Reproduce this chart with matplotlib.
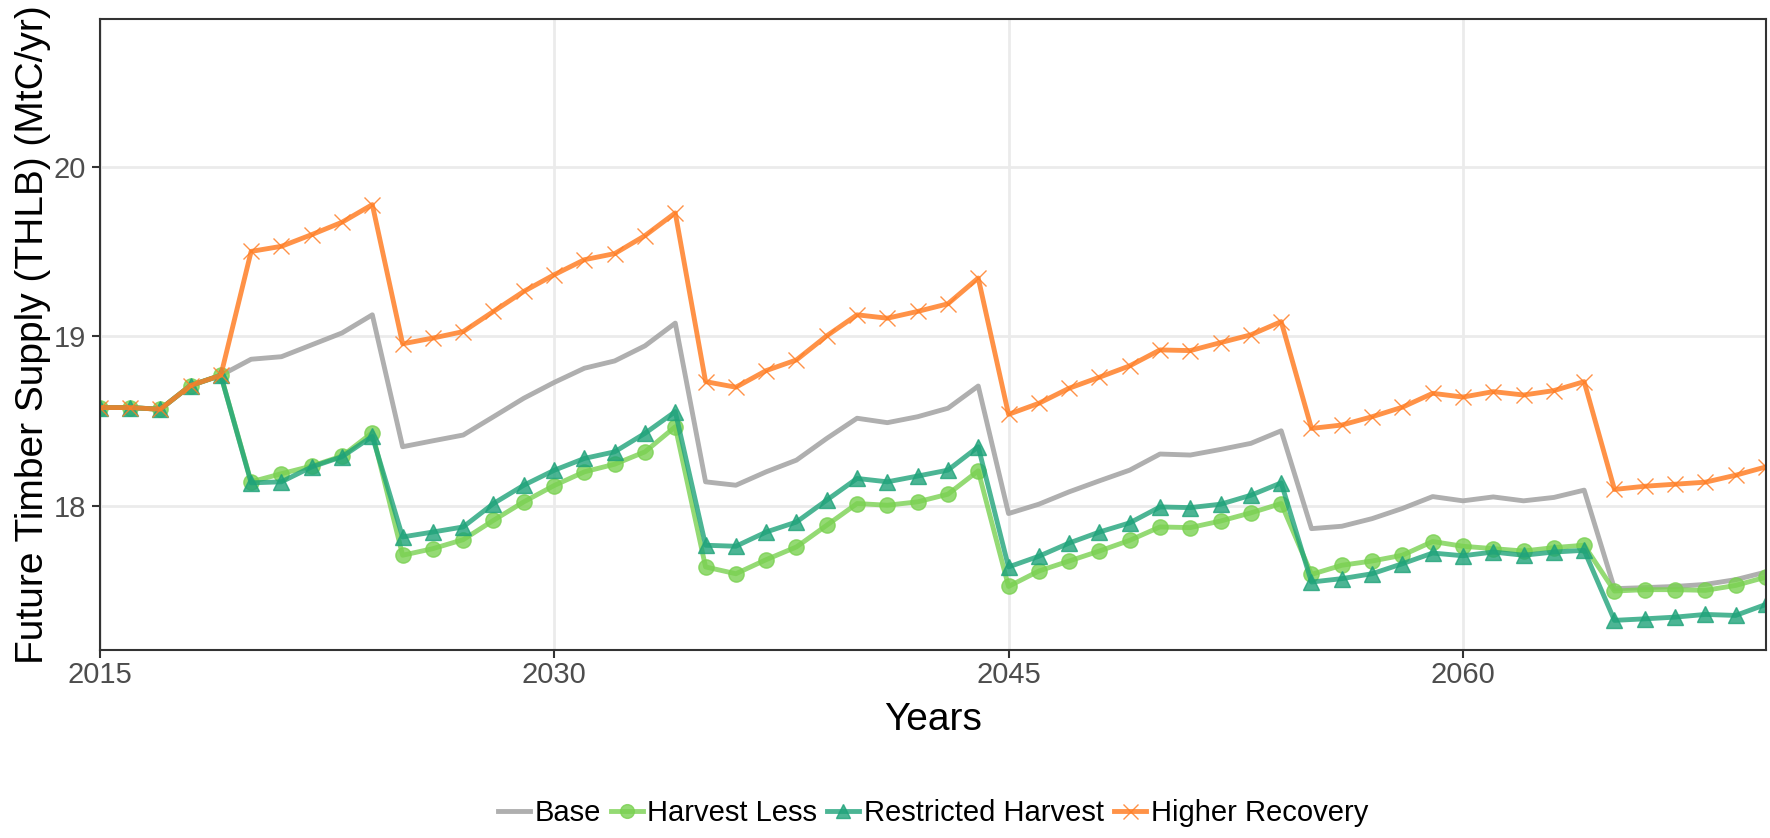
import matplotlib
matplotlib.use("Agg")
import matplotlib.pyplot as plt

plt.rcParams['font.family'] = ['Liberation Sans', 'DejaVu Sans']

years = list(range(2015, 2071))

start = [18.58, 18.58, 18.57, 18.71, 18.77]

base = start + [
    18.865, 18.88, 18.95, 19.02, 19.127,
    18.349, 18.384, 18.418, 18.526, 18.635, 18.728, 18.812, 18.855, 18.944, 19.078,
    18.142, 18.122, 18.201, 18.27, 18.398, 18.517, 18.491, 18.526, 18.576, 18.707,
    17.955, 18.01, 18.083, 18.148, 18.211, 18.306, 18.3, 18.333, 18.369, 18.443,
    17.866, 17.88, 17.925, 17.985, 18.055, 18.03, 18.053, 18.03, 18.05, 18.093,
    17.512, 17.518, 17.525, 17.537, 17.565, 17.61]

harvest_less = start + [
    18.142, 18.19, 18.235, 18.294, 18.432,
    17.709, 17.748, 17.801, 17.915, 18.024, 18.12, 18.201, 18.246, 18.319, 18.467,
    17.64, 17.6, 17.683, 17.758, 17.886, 18.014, 18.004, 18.024, 18.069, 18.207,
    17.525, 17.616, 17.675, 17.734, 17.797, 17.876, 17.872, 17.911, 17.959, 18.014,
    17.596, 17.65, 17.675, 17.709, 17.79, 17.762, 17.748, 17.734, 17.754, 17.768,
    17.498, 17.506, 17.506, 17.502, 17.531, 17.58]

restricted = start + [
    18.136, 18.142, 18.23, 18.29, 18.41,
    17.817, 17.846, 17.876, 18.014, 18.122, 18.21, 18.28, 18.319, 18.428, 18.556,
    17.768, 17.762, 17.846, 17.905, 18.034, 18.162, 18.142, 18.176, 18.211, 18.349,
    17.64, 17.703, 17.781, 17.846, 17.9, 17.994, 17.99, 18.01, 18.063, 18.136,
    17.551, 17.571, 17.6, 17.659, 17.722, 17.706, 17.728, 17.709, 17.728, 17.738,
    17.325, 17.334, 17.344, 17.36, 17.354, 17.419]

higher_recovery = start + [
    19.501, 19.531, 19.6, 19.673, 19.777,
    18.956, 18.99, 19.028, 19.147, 19.265, 19.363, 19.452, 19.488, 19.594, 19.728,
    18.733, 18.7, 18.798, 18.861, 19.003, 19.127, 19.107, 19.147, 19.192, 19.344,
    18.54, 18.605, 18.694, 18.759, 18.826, 18.92, 18.916, 18.963, 19.009, 19.087,
    18.457, 18.477, 18.526, 18.582, 18.664, 18.642, 18.674, 18.654, 18.68, 18.733,
    18.097, 18.116, 18.128, 18.14, 18.181, 18.23]

fig = plt.figure(figsize=(17.7, 8.38), dpi=100)
ax = fig.add_axes([0.0563, 0.2243, 0.9414, 0.7527])

ax.plot(years, base, color="#A6A6A6", lw=3.5, alpha=0.9, label="Base")
ax.plot(years, harvest_less, color="#7AD151", lw=3.5, alpha=0.8,
        marker="o", markersize=11, label="Harvest Less")
ax.plot(years, restricted, color="#1FA37A", lw=3.5, alpha=0.8,
        marker="^", markersize=11, label="Restricted Harvest")
ax.plot(years, higher_recovery, color="#FF7F27", lw=3.5, alpha=0.85,
        marker="x", markersize=12, markeredgewidth=1, label="Higher Recovery")

ax.set_xlim(2015, 2070)
ax.set_ylim(17.15, 20.87)
ax.set_xticks([2015, 2030, 2045, 2060])
ax.set_yticks([18, 19, 20])
ax.grid(True, color="#EBEBEB", lw=2)
ax.set_axisbelow(True)
for s in ax.spines.values():
    s.set_color("#333333")
    s.set_linewidth(1.5)
ax.tick_params(axis="both", colors="#333333", labelcolor="#4D4D4D",
               labelsize=21, length=6, width=1.5)
ax.tick_params(axis="x", pad=2)
ax.tick_params(axis="y", pad=4)

ax.set_xlabel("Years", fontsize=28, labelpad=9)
ax.set_ylabel("Future Timber Supply (THLB) (MtC/yr)", fontsize=28, labelpad=2)

# legend sits centred under the panel, not the whole figure
fig.legend(loc="center", bbox_to_anchor=(0.527, 0.03), ncol=4, frameon=False,
           fontsize=21, handlelength=1.1, handletextpad=0.15, columnspacing=0.35,
           markerscale=0.9)

fig.savefig("out.png", dpi=100)
